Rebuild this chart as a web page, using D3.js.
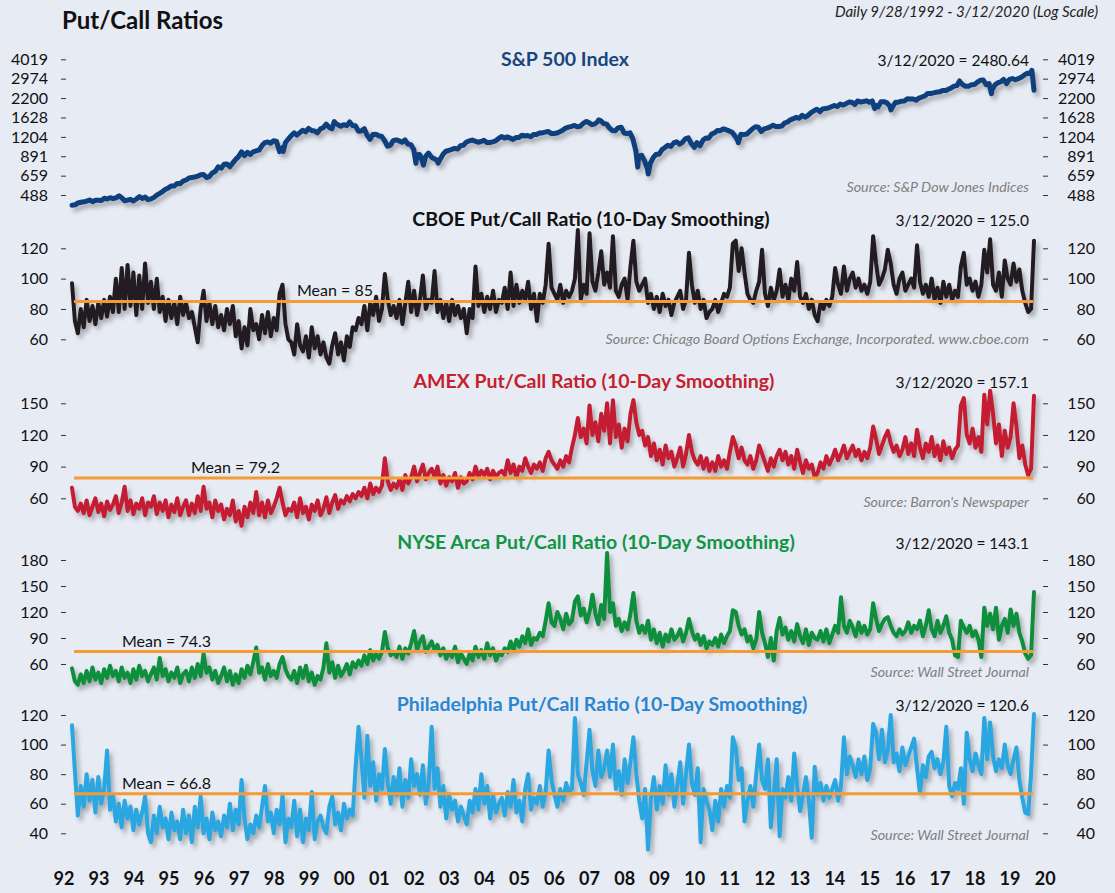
<!DOCTYPE html>
<html>
<head>
<meta charset="utf-8">
<script src="https://cdn.jsdelivr.net/npm/d3@7"></script>
<style>
  body { margin: 0; background: #e7ebf4; }
  svg { display: block; font-family: Lato, "Open Sans", sans-serif; }
</style>
</head>
<body>
<div id="chart"></div>
<script>
// ---- data ----
var startDate = "1992-09-28", endDate = "2020-03-12";
var yearLabels = d3.range(1992, 2021);

// S&P 500 month-end closes, Oct 1992 .. Feb 2020
var spxMonthly = [
  418.7, 431.4, 435.7,
  438.8, 443.4, 451.7, 440.2, 450.2, 450.5, 448.1, 463.6, 458.9, 467.8, 461.8, 466.5,
  481.6, 467.1, 445.8, 451.0, 456.5, 444.3, 458.3, 475.5, 462.7, 472.4, 453.7, 459.3,
  470.4, 487.4, 500.7, 514.7, 533.4, 544.8, 562.1, 561.9, 584.4, 581.5, 605.4, 615.9,
  636.0, 640.4, 645.5, 654.2, 669.1, 670.6, 639.9, 651.9, 687.3, 705.3, 757.0, 740.7,
  786.2, 790.8, 757.1, 801.3, 848.3, 885.1, 954.3, 899.5, 947.3, 914.6, 955.4, 970.4,
  980.3, 1049.3, 1101.8, 1111.8, 1090.8, 1133.8, 1120.7, 957.3, 1017.0, 1098.7, 1163.6, 1229.2,
  1279.6, 1238.3, 1286.4, 1335.2, 1301.8, 1372.7, 1328.7, 1320.4, 1282.7, 1362.9, 1388.9, 1469.3,
  1394.5, 1366.4, 1498.6, 1452.4, 1420.6, 1454.6, 1430.8, 1517.7, 1436.5, 1429.4, 1315.2, 1320.3,
  1366.0, 1239.9, 1160.3, 1249.5, 1255.8, 1224.4, 1211.2, 1133.6, 1040.9, 1059.8, 1139.5, 1148.1,
  1130.2, 1106.7, 1147.4, 1076.9, 1067.1, 989.8, 911.6, 916.1, 815.3, 885.8, 936.3, 879.8,
  855.7, 841.2, 848.2, 916.9, 963.6, 974.5, 990.3, 1008.0, 996.0, 1050.7, 1058.2, 1111.9,
  1131.1, 1144.9, 1126.2, 1107.3, 1120.7, 1140.8, 1101.7, 1104.2, 1114.6, 1130.2, 1173.8, 1211.9,
  1181.3, 1203.6, 1180.6, 1156.9, 1191.5, 1191.3, 1234.2, 1220.3, 1228.8, 1207.0, 1249.5, 1248.3,
  1280.1, 1280.7, 1294.9, 1310.6, 1270.1, 1270.2, 1276.7, 1303.8, 1335.9, 1377.9, 1400.6, 1418.3,
  1438.2, 1406.8, 1420.9, 1482.4, 1530.6, 1503.4, 1455.3, 1473.9, 1526.8, 1549.4, 1481.1, 1468.4,
  1378.6, 1330.6, 1322.7, 1385.6, 1400.4, 1280.0, 1267.4, 1282.8, 1166.4, 968.8, 896.2, 903.3,
  825.9, 735.1, 797.9, 872.8, 919.1, 919.3, 987.5, 1020.6, 1057.1, 1036.2, 1095.6, 1115.1,
  1073.9, 1104.5, 1169.4, 1186.7, 1089.4, 1030.7, 1101.6, 1049.3, 1141.2, 1183.3, 1180.6, 1257.6,
  1286.1, 1327.2, 1325.8, 1363.6, 1345.2, 1320.6, 1292.3, 1218.9, 1131.4, 1253.3, 1247.0, 1257.6,
  1312.4, 1365.7, 1408.5, 1397.9, 1310.3, 1362.2, 1379.3, 1406.6, 1440.7, 1412.2, 1416.2, 1426.2,
  1498.1, 1514.7, 1569.2, 1597.6, 1630.7, 1606.3, 1685.7, 1633.0, 1681.6, 1756.5, 1805.8, 1848.4,
  1782.6, 1859.5, 1872.3, 1883.9, 1923.6, 1960.2, 1930.7, 2003.4, 1972.3, 2018.1, 2067.6, 2058.9,
  1995.0, 2104.5, 2067.9, 2085.5, 2107.4, 2063.1, 2103.8, 1972.2, 1920.0, 2079.4, 2080.4, 2043.9,
  1940.2, 1932.2, 2059.7, 2065.3, 2096.9, 2098.9, 2173.6, 2170.9, 2168.3, 2126.2, 2199.0, 2238.8,
  2278.9, 2363.6, 2362.7, 2384.2, 2411.8, 2423.4, 2470.3, 2471.7, 2519.4, 2575.3, 2647.6, 2673.6,
  2823.8, 2713.8, 2640.9, 2648.1, 2705.3, 2718.4, 2816.3, 2901.5, 2914.0, 2711.7, 2760.2, 2506.9,
  2704.1, 2784.5, 2834.4, 2945.8, 2752.1, 2941.8, 2980.4, 2926.5, 2976.7, 3037.6, 3141.0, 3230.8,
  3225.5, 2954.2
];
// extra daily closes at turning points
var spxExtra = [
  ["1992-09-28", 416.6], ["1998-10-08", 959.4], ["2000-03-24", 1527.5], ["2002-07-23", 797.7],
  ["2002-10-09", 776.8], ["2003-03-11", 800.7], ["2007-10-09", 1565.2], ["2008-11-20", 752.4],
  ["2009-03-09", 676.5], ["2010-07-02", 1022.6], ["2011-10-03", 1099.2], ["2015-08-25", 1867.6],
  ["2016-02-11", 1829.1], ["2018-01-26", 2872.9], ["2018-12-24", 2351.1], ["2020-02-19", 3386.2],
  ["2020-03-12", 2480.64]
];
var spxTicks = [488, 659, 891, 1204, 1628, 2200, 2974, 4019];

// 10-day smoothed put/call ratios (x100), sampled about monthly, Sep 1992 .. Mar 2020
var cboeValues = [
  97, 72, 64,
  80, 68, 86, 72, 82, 70, 84, 74, 86, 75, 88, 78,
  100, 78, 107, 80, 109, 82, 104, 76, 102, 80, 110, 84,
  98, 80, 100, 78, 88, 72, 86, 74, 84, 70, 88, 76,
  84, 74, 78, 68, 58, 80, 92, 72, 84, 70, 82, 68,
  76, 66, 80, 70, 82, 62, 72, 54, 68, 56, 80, 66,
  70, 60, 76, 64, 78, 62, 74, 66, 90, 96, 70, 60,
  58, 50, 70, 56, 52, 62, 48, 68, 54, 62, 50, 58,
  48, 44, 56, 64, 50, 58, 46, 62, 55, 68, 66, 74,
  70, 82, 66, 84, 76, 88, 72, 80, 103, 86, 76, 82,
  74, 86, 70, 84, 98, 78, 92, 76, 86, 102, 80, 86,
  84, 105, 78, 86, 74, 84, 72, 86, 76, 82, 74, 80,
  64, 80, 74, 108, 82, 90, 78, 88, 80, 92, 78, 86,
  84, 94, 80, 104, 82, 96, 84, 92, 86, 98, 80, 90,
  72, 90, 84, 96, 123, 94, 90, 86, 96, 84, 92, 88,
  92, 100, 132, 86, 96, 90, 130, 98, 92, 104, 118, 96,
  104, 94, 128, 92, 88, 96, 100, 86, 108, 125, 98, 92,
  96, 100, 84, 90, 80, 88, 78, 90, 82, 86, 76, 84,
  88, 92, 80, 86, 117, 96, 84, 92, 80, 86, 74, 78,
  80, 86, 78, 84, 90, 88, 94, 123, 125, 105, 120, 104,
  90, 86, 84, 92, 98, 119, 90, 82, 94, 86, 92, 106,
  88, 96, 86, 100, 92, 111, 88, 84, 90, 80, 86, 76,
  72, 84, 80, 86, 82, 88, 107, 96, 90, 108, 92, 100,
  104, 94, 100, 92, 96, 90, 98, 128, 110, 96, 100, 106,
  119, 110, 96, 90, 100, 104, 92, 96, 100, 94, 122, 98,
  90, 96, 88, 100, 86, 94, 84, 98, 88, 96, 86, 92,
  88, 108, 117, 96, 100, 92, 98, 88, 96, 119, 104, 126,
  96, 92, 104, 88, 112, 100, 96, 110, 98, 106, 92, 84,
  78, 80, 125
];
var cboeTicks = [60, 80, 100, 120];

var amexValues = [
  70, 52, 48,
  55, 46, 58, 44, 52, 60, 47, 55, 43, 57, 49, 54,
  62, 46, 56, 71, 48, 58, 45, 55, 50, 60, 44, 56,
  52, 62, 45, 56, 48, 58, 42, 54, 47, 60, 44, 52,
  58, 44, 55, 46, 62, 48, 71, 50, 56, 42, 58, 48,
  54, 40, 50, 44, 58, 38, 48, 34, 52, 42, 56, 46,
  66, 44, 56, 42, 58, 46, 52, 60, 70, 56, 44, 50,
  48, 56, 42, 60, 46, 52, 40, 54, 48, 58, 44, 50,
  61, 46, 56, 63, 50, 58, 55, 62, 57, 64, 60, 66,
  62, 70, 60, 74, 64, 70, 66, 72, 98, 76, 68, 74,
  70, 78, 68, 82, 74, 80, 90, 76, 84, 92, 78, 84,
  88, 80, 90, 74, 82, 72, 80, 76, 84, 70, 80, 74,
  76, 84, 78, 90, 80, 86, 82, 88, 78, 86, 80, 84,
  86, 82, 96, 84, 92, 80, 90, 86, 98, 90, 84, 92,
  88, 94, 86, 98, 104, 96, 92, 88, 96, 90, 100, 94,
  108, 120, 136, 118, 126, 112, 148, 120, 132, 114, 140, 124,
  150, 112, 153, 118, 130, 108, 126, 114, 140, 153, 132, 120,
  124, 110, 118, 100, 112, 96, 106, 92, 110, 98, 104, 90,
  98, 108, 90, 102, 120, 104, 96, 92, 100, 88, 98, 86,
  94, 86, 100, 90, 96, 88, 104, 118, 110, 98, 108, 96,
  92, 100, 88, 96, 110, 102, 94, 86, 98, 90, 100, 106,
  96, 104, 92, 100, 88, 106, 94, 84, 96, 88, 92, 80,
  84, 94, 88, 100, 92, 98, 106, 96, 102, 110, 98, 104,
  110, 100, 106, 96, 104, 98, 108, 128, 116, 102, 110, 118,
  124, 112, 104, 110, 100, 106, 118, 102, 112, 100, 125, 108,
  98, 112, 104, 118, 100, 110, 96, 114, 102, 108, 98, 106,
  110, 148, 155, 120, 112, 126, 108, 118, 104, 158, 130, 162,
  140, 112, 130, 100, 124, 108, 118, 150, 128, 98, 110, 92,
  82, 88, 157.1
];
var amexTicks = [60, 90, 120, 150];

var arcaValues = [
  55, 40, 36,
  48, 38, 52, 40, 56, 42, 50, 38, 54, 44, 58, 46,
  52, 40, 56, 44, 50, 38, 54, 42, 58, 46, 52, 40,
  48, 56, 42, 67, 46, 54, 40, 50, 44, 56, 38, 48,
  52, 40, 56, 44, 60, 46, 72, 50, 56, 42, 52, 38,
  46, 56, 40, 52, 36, 48, 38, 54, 44, 58, 48, 62,
  79, 50, 56, 42, 60, 46, 52, 44, 60, 68, 54, 46,
  42, 52, 38, 56, 44, 58, 40, 50, 36, 46, 42, 56,
  84, 50, 62, 44, 58, 46, 52, 60, 48, 62, 56, 64,
  58, 70, 60, 76, 64, 72, 66, 74, 97, 78, 70, 74,
  68, 80, 66, 78, 72, 84, 98, 76, 86, 92, 74, 80,
  86, 76, 82, 70, 78, 66, 74, 68, 80, 62, 72, 66,
  60, 72, 64, 80, 68, 76, 66, 84, 70, 78, 64, 72,
  70, 78, 74, 86, 76, 88, 80, 92, 84, 100, 82, 90,
  88, 96, 92, 110, 130, 108, 104, 120, 112, 100, 118, 106,
  110, 132, 138, 116, 124, 108, 120, 140, 118, 106, 128, 112,
  188, 120, 130, 104, 112, 98, 108, 100, 118, 142, 110, 96,
  104, 96, 110, 88, 100, 84, 96, 80, 94, 86, 100, 88,
  92, 100, 86, 96, 112, 98, 88, 94, 82, 92, 78, 86,
  82, 90, 80, 94, 84, 92, 98, 122, 120, 104, 94, 100,
  86, 92, 78, 88, 120, 96, 84, 68, 90, 64, 98, 113,
  94, 102, 88, 98, 86, 106, 92, 84, 100, 82, 96, 90,
  88, 98, 86, 100, 84, 94, 104, 96, 137, 104, 96, 110,
  102, 92, 108, 96, 104, 94, 100, 130, 112, 98, 106, 112,
  114, 104, 96, 92, 100, 94, 98, 108, 96, 104, 100, 110,
  92, 104, 122, 100, 92, 110, 96, 104, 115, 96, 88, 70,
  68, 110, 102, 96, 104, 92, 98, 88, 68, 125, 104, 118,
  100, 125, 88, 104, 112, 96, 123, 104, 118, 96, 86, 72,
  66, 70, 143.1
];
var arcaTicks = [60, 90, 120, 150, 180];

var phlxValues = [
  113, 82, 52,
  72, 58, 80, 62, 76, 54, 78, 60, 70, 96, 56, 66,
  48, 60, 44, 62, 50, 58, 42, 56, 46, 54, 65, 40,
  34, 52, 40, 58, 44, 50, 36, 54, 42, 48, 36, 56,
  40, 52, 34, 58, 44, 65, 40, 50, 36, 54, 42, 48,
  38, 52, 44, 60, 42, 56, 46, 76, 50, 36, 46, 40,
  52, 44, 58, 72, 48, 54, 40, 56, 46, 66, 34, 50,
  44, 62, 38, 56, 34, 50, 42, 68, 36, 48, 52, 44,
  40, 58, 65, 46, 54, 42, 60, 50, 56, 52, 85, 112,
  90, 64, 106, 72, 88, 62, 80, 70, 97, 74, 60, 78,
  66, 84, 58, 76, 64, 90, 72, 80, 66, 86, 60, 74,
  112, 70, 84, 58, 72, 50, 66, 56, 62, 48, 58, 52,
  46, 62, 54, 70, 56, 80, 60, 72, 50, 66, 54, 60,
  64, 52, 68, 58, 76, 54, 62, 48, 70, 80, 56, 64,
  60, 72, 58, 68, 96, 76, 66, 58, 70, 62, 74, 68,
  70, 118, 80, 74, 66, 88, 110, 82, 72, 96, 78, 84,
  96, 78, 100, 70, 82, 66, 90, 74, 88, 105, 80, 62,
  50, 70, 29, 64, 78, 56, 72, 60, 86, 66, 80, 58,
  72, 88, 60, 80, 100, 74, 66, 84, 34, 70, 62, 56,
  42, 62, 48, 70, 58, 72, 64, 105, 98, 76, 84, 48,
  62, 72, 58, 80, 100, 76, 70, 90, 44, 66, 90, 38,
  70, 64, 78, 62, 94, 72, 55, 66, 78, 62, 37, 85,
  66, 74, 62, 72, 64, 70, 76, 62, 72, 105, 80, 92,
  86, 78, 90, 80, 92, 76, 84, 114, 108, 90, 110, 88,
  96, 120, 88, 94, 82, 98, 86, 92, 98, 104, 84, 67,
  86, 78, 92, 95, 84, 90, 80, 88, 112, 72, 65, 74,
  70, 84, 60, 108, 90, 82, 94, 86, 80, 118, 90, 115,
  92, 82, 90, 84, 100, 86, 80, 90, 98, 76, 64, 54,
  53, 80, 120.6
];
var phlxTicks = [40, 60, 80, 100, 120];

var means = { cboe: 85, amex: 79.2, arca: 74.3, phlx: 66.8 };

// ---- layout ----
var W = 1115, H = 893;
var FONT = "Lato, 'Open Sans', sans-serif";
var parse = d3.timeParse("%Y-%m-%d");
var t0 = parse(startDate), t1 = parse(endDate);

var x = d3.scaleTime().domain([t0, t1]).range([72, 1034]);

function evenDates(n) {
  return d3.range(n).map(function(i) {
    return new Date(+t0 + (t1 - t0) * i / (n - 1));
  });
}

var spxData = spxMonthly.map(function(v, k) {
  return { date: new Date(1992, 10 + k, 0), value: v };
}).concat(spxExtra.map(function(d) { return { date: parse(d[0]), value: d[1] }; }));
spxData.sort(function(a, b) { return a.date - b.date; });

function toSeries(vals) {
  var ds = evenDates(vals.length);
  return vals.map(function(v, i) { return { date: ds[i], value: v }; });
}

var panels = [
  { key: "spx", title: "S&P 500 Index", titleColor: "#17457c", titleX: 565, titleY: 66,
    latest: "3/12/2020 = 2480.64", source: "Source: S&P Dow Jones Indices", sourceY: 192,
    data: spxData, ticks: spxTicks, color: "#0d3f7c", width: 5,
    y: d3.scaleLog().domain([488, 4019]).range([195, 59.3]) },
  { key: "cboe", title: "CBOE Put/Call Ratio (10-Day Smoothing)", titleColor: "#111", titleX: 591, titleY: 226,
    latest: "3/12/2020 = 125.0", source: "Source: Chicago Board Options Exchange, Incorporated. www.cboe.com", sourceY: 344,
    data: toSeries(cboeValues), ticks: cboeTicks, color: "#231f20", width: 4,
    y: d3.scaleLinear().domain([60, 120]).range([339.3, 248.3]),
    mean: means.cboe, meanLabel: "Mean = 85", meanX: 297 },
  { key: "amex", title: "AMEX Put/Call Ratio (10-Day Smoothing)", titleColor: "#c5202e", titleX: 594, titleY: 388,
    latest: "3/12/2020 = 157.1", source: "Source: Barron's Newspaper", sourceY: 507,
    data: toSeries(amexValues), ticks: amexTicks, color: "#c41e30", width: 4,
    y: d3.scaleLinear().domain([60, 150]).range([498.3, 403.3]),
    mean: means.amex, meanLabel: "Mean = 79.2", meanX: 191 },
  { key: "arca", title: "NYSE Arca Put/Call Ratio (10-Day Smoothing)", titleColor: "#119444", titleX: 596, titleY: 549,
    latest: "3/12/2020 = 143.1", source: "Source: Wall Street Journal", sourceY: 677,
    data: toSeries(arcaValues), ticks: arcaTicks, color: "#0b8f3e", width: 4,
    y: d3.scaleLinear().domain([60, 180]).range([664, 560]),
    mean: means.arca, meanLabel: "Mean = 74.3", meanX: 122 },
  { key: "phlx", title: "Philadelphia Put/Call Ratio (10-Day Smoothing)", titleColor: "#2a86d0", titleX: 602, titleY: 711,
    latest: "3/12/2020 = 120.6", source: "Source: Wall Street Journal", sourceY: 840,
    data: toSeries(phlxValues), ticks: phlxTicks, color: "#29a7e1", width: 4,
    y: d3.scaleLinear().domain([40, 120]).range([833.3, 715]),
    mean: means.phlx, meanLabel: "Mean = 66.8", meanX: 122 }
];

var svg = d3.select("#chart").append("svg").attr("width", W).attr("height", H);
svg.append("rect").attr("width", W).attr("height", H).attr("fill", "#e7ebf4");

var defs = svg.append("defs");
var f = defs.append("filter").attr("id", "shadow")
  .attr("filterUnits", "userSpaceOnUse").attr("x", 0).attr("y", 0).attr("width", W).attr("height", H);
f.append("feGaussianBlur").attr("in", "SourceAlpha").attr("stdDeviation", 2);
f.append("feOffset").attr("dx", 3).attr("dy", 4).attr("result", "off");
f.append("feFlood").attr("flood-color", "#5a5a5a").attr("flood-opacity", 0.45);
f.append("feComposite").attr("in2", "off").attr("operator", "in");
var fm = f.append("feMerge");
fm.append("feMergeNode");
fm.append("feMergeNode").attr("in", "SourceGraphic");

// header
svg.append("text").attr("x", 62).attr("y", 29)
  .style("font-size", "24px").style("font-weight", "bold").attr("fill", "#111")
  .text("Put/Call Ratios");
svg.append("text").attr("x", 1098).attr("y", 17).attr("text-anchor", "end")
  .style("font-size", "15px").style("font-style", "italic").attr("fill", "#222")
  .text("Daily 9/28/1992 - 3/12/2020 (Log Scale)");

panels.forEach(function(p) {
  var g = svg.append("g").attr("class", "panel-" + p.key);

  var fmt = function(d) { return d; };
  var left = d3.axisLeft(p.y).tickValues(p.ticks).tickSize(5).tickPadding(13).tickFormat(fmt);
  var right = d3.axisRight(p.y).tickValues(p.ticks).tickSize(5).tickPadding(0).tickFormat(fmt);

  var la = g.append("g").attr("transform", "translate(66,0)").call(left);
  var ra = g.append("g").attr("transform", "translate(1043,0)").call(right);
  [la, ra].forEach(function(a) {
    a.select(".domain").remove();
    a.selectAll("line").attr("stroke", "#333");
    a.selectAll("text").style("font-size", "16px").style("font-family", FONT).attr("fill", "#111");
  });
  ra.selectAll("text").attr("text-anchor", "end").attr("x", 52);

  var line = d3.line()
    .x(function(d) { return x(d.date); })
    .y(function(d) { return p.y(d.value); });

  g.append("path").datum(p.data)
    .attr("d", line)
    .attr("fill", "none")
    .attr("stroke", p.color)
    .attr("stroke-width", p.width)
    .attr("stroke-linejoin", "round")
    .attr("stroke-linecap", "round")
    .attr("filter", "url(#shadow)");

  if (p.mean !== undefined) {
    g.append("line")
      .attr("x1", x(t0) + 2).attr("x2", x(t1) - 1)
      .attr("y1", p.y(p.mean)).attr("y2", p.y(p.mean))
      .attr("stroke", "#f69b34").attr("stroke-width", 3);
    g.append("text").attr("x", p.meanX).attr("y", p.y(p.mean) - 5)
      .style("font-size", "16px").attr("fill", "#111").text(p.meanLabel);
  }

  g.append("text").attr("x", p.titleX).attr("y", p.titleY).attr("text-anchor", "middle")
    .style("font-size", "19.5px").style("font-weight", "bold").attr("fill", p.titleColor)
    .text(p.title);
  g.append("text").attr("x", 1029).attr("y", p.titleY).attr("text-anchor", "end")
    .style("font-size", "15.5px").attr("fill", "#111").text(p.latest);
  g.append("text").attr("x", 1029).attr("y", p.sourceY).attr("text-anchor", "end")
    .style("font-size", "14.3px").style("font-style", "italic").attr("fill", "#7f7f7f")
    .text(p.source);
});

// year axis
var xa = d3.axisBottom(x)
  .tickValues(yearLabels.map(function(y) { return new Date(y, 6, 1); }))
  .tickSize(0).tickPadding(0)
  .tickFormat(d3.timeFormat("%y"));
var xg = svg.append("g").attr("transform", "translate(0,872)").call(xa);
xg.select(".domain").remove();
xg.selectAll("text").attr("dy", "0.72em").attr("y", 0)
  .style("font-size", "18px").style("font-weight", "bold")
  .style("font-family", FONT).attr("fill", "#111");
</script>
</body>
</html>
